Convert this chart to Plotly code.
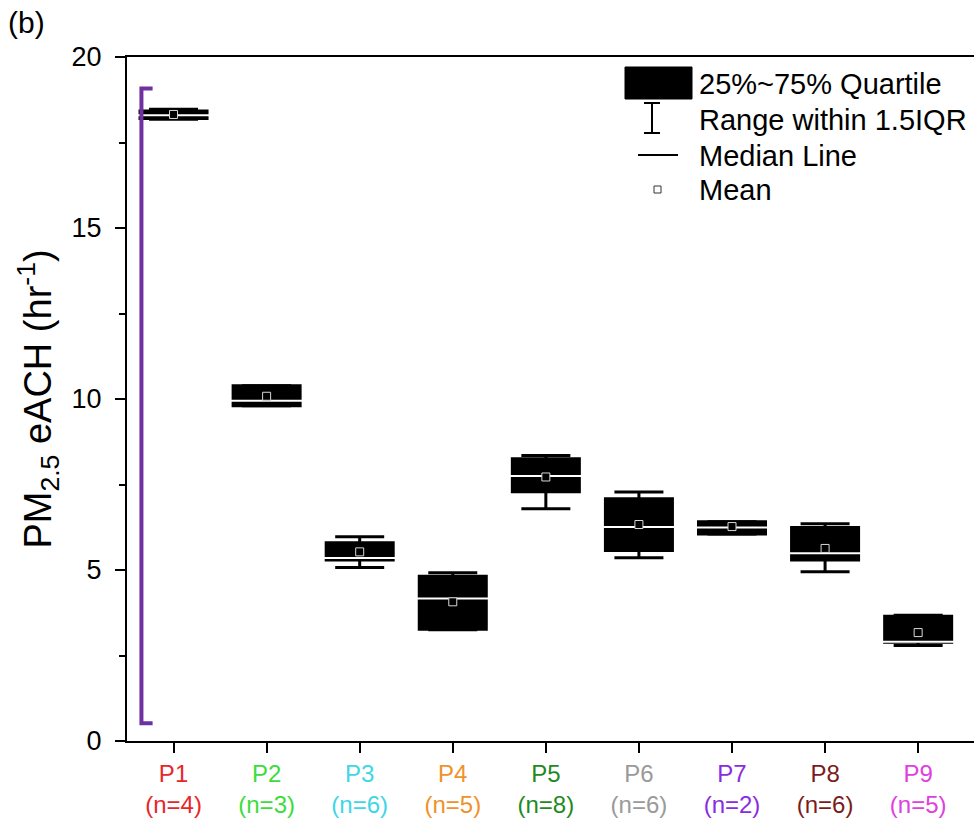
import plotly.graph_objects as go

# ---- data ----
categories = ["P1", "P2", "P3", "P4", "P5", "P6", "P7", "P8", "P9"]
n_counts = [4, 3, 6, 5, 8, 6, 2, 6, 5]
label_colors = ["#e8262a", "#3ddc3d", "#3fd6e6", "#f0922a", "#1f8a1f",
                "#9a9a9a", "#8a2be2", "#7a1c1c", "#e040e0"]
q1 = [18.20, 9.80, 5.29, 3.27, 7.29, 5.57, 6.05, 5.29, 2.89]
q3 = [18.42, 10.39, 5.80, 4.82, 8.25, 7.08, 6.41, 6.24, 3.65]
median = [18.30, 9.95, 5.35, 4.17, 7.75, 6.26, 6.24, 5.49, 2.90]
mean = [18.32, 10.08, 5.53, 4.07, 7.72, 6.33, 6.27, 5.63, 3.17]
wmin = [18.18, 9.80, 5.07, 3.25, 6.79, 5.36, 6.05, 4.95, 2.79]
wmax = [18.47, 10.39, 5.97, 4.92, 8.35, 7.28, 6.41, 6.35, 3.68]
bracket_range = [0.52, 19.08]
yticks = [0, 5, 10, 15, 20]

xs = list(range(1, len(categories) + 1))
font_family = "Liberation Sans, Arial, sans-serif"

fig = go.Figure()

# boxes
fig.add_trace(go.Box(
    x=xs, q1=q1, median=median, q3=q3, lowerfence=wmin, upperfence=wmax,
    fillcolor="black", line=dict(color="black", width=3), width=0.72,
    whiskerwidth=0, boxpoints=False, showlegend=False, hoverinfo="skip",
))

# whisker caps
for vals in (wmin, wmax):
    fig.add_trace(go.Scatter(
        x=xs, y=vals, mode="markers", showlegend=False, hoverinfo="skip",
        marker=dict(symbol="line-ew", size=35, line=dict(color="black", width=3)),
    ))

# median lines (white)
fig.add_trace(go.Scatter(
    x=xs, y=median, mode="markers", showlegend=False, hoverinfo="skip",
    marker=dict(symbol="line-ew", size=64, line=dict(color="white", width=2)),
))

# mean squares
fig.add_trace(go.Scatter(
    x=xs, y=mean, mode="markers", showlegend=False, hoverinfo="skip",
    marker=dict(symbol="square", size=8, color="black",
                line=dict(color="#d8d8d8", width=1)),
))

# purple bracket
bx0, bx1 = 0.655, 0.775
fig.add_trace(go.Scatter(
    x=[bx1, bx0, bx0, bx1],
    y=[bracket_range[1], bracket_range[1], bracket_range[0], bracket_range[0]],
    mode="lines", line=dict(color="#7030a0", width=4), showlegend=False,
    hoverinfo="skip",
))

ticktext = [
    f"<span style='color:{c}'>{p}</span><br><span style='color:{c}'>(n={n})</span>"
    for p, n, c in zip(categories, n_counts, label_colors)
]

fig.update_layout(
    width=974, height=826,
    margin=dict(l=127, r=0, t=57, b=85),
    paper_bgcolor="white", plot_bgcolor="white",
    font=dict(family=font_family, color="black", size=20),
    showlegend=False,
    xaxis=dict(
        range=[0.5, 9.6], tickvals=xs, ticktext=ticktext,
        showline=True, linecolor="black", linewidth=2, mirror=True,
        ticks="outside", ticklen=10, tickwidth=2, tickcolor="black",
        showgrid=False, zeroline=False, tickfont=dict(size=24),
    ),
    yaxis=dict(
        range=[0, 20], tickvals=yticks,
        showline=True, linecolor="black", linewidth=2, mirror=False,
        ticks="outside", ticklen=10, tickwidth=2, tickcolor="black",
        minor=dict(dtick=2.5, ticks="outside", ticklen=6, tickwidth=2, tickcolor="black"),
        showgrid=False, zeroline=False, tickfont=dict(size=27),
        ticklabelstandoff=8,
        title=dict(text="PM<sub>2.5</sub> eACH (hr<sup>-1</sup>)",
                   font=dict(size=38), standoff=8),
    ),
)

# ---- helpers for pixel -> paper coords ----
W, H = 974 - 127, 826 - 57 - 85
def px(x):
    return (x - 127) / W
def py(y):
    return 1 - (y - 57) / H

# (b) label
fig.add_annotation(text="(b)", xref="paper", yref="paper", x=px(6), y=py(22),
                   xanchor="left", yanchor="middle", showarrow=False,
                   font=dict(size=30))

# ---- custom legend ----
fig.add_shape(type="rect", xref="paper", yref="paper",
              x0=px(625), x1=px(692), y0=py(67), y1=py(99),
              fillcolor="black", line=dict(color="black", width=1))
for y in (103, 133):
    fig.add_shape(type="line", xref="paper", yref="paper",
                  x0=px(644), x1=px(660), y0=py(y), y1=py(y),
                  line=dict(color="black", width=2))
fig.add_shape(type="line", xref="paper", yref="paper",
              x0=px(652), x1=px(652), y0=py(103), y1=py(133),
              line=dict(color="black", width=2))
fig.add_shape(type="line", xref="paper", yref="paper",
              x0=px(638), x1=px(678), y0=py(155), y1=py(155),
              line=dict(color="black", width=2))
fig.add_shape(type="rect", xref="paper", yref="paper",
              x0=px(654), x1=px(661), y0=py(186), y1=py(193),
              fillcolor="white", line=dict(color="#333", width=1))

legend_texts = ["25%~75% Quartile", "Range within 1.5IQR", "Median Line", "Mean"]
legend_ys = [84, 120, 156, 190]
for t, y in zip(legend_texts, legend_ys):
    fig.add_annotation(text=t, xref="paper", yref="paper", x=px(697), y=py(y),
                       xanchor="left", yanchor="middle", showarrow=False,
                       font=dict(size=29))

fig.write_html(
    "out.html",
    config={"displayModeBar": False},
    post_script="document.body.style.margin='0';document.body.style.overflow='hidden';",
)
